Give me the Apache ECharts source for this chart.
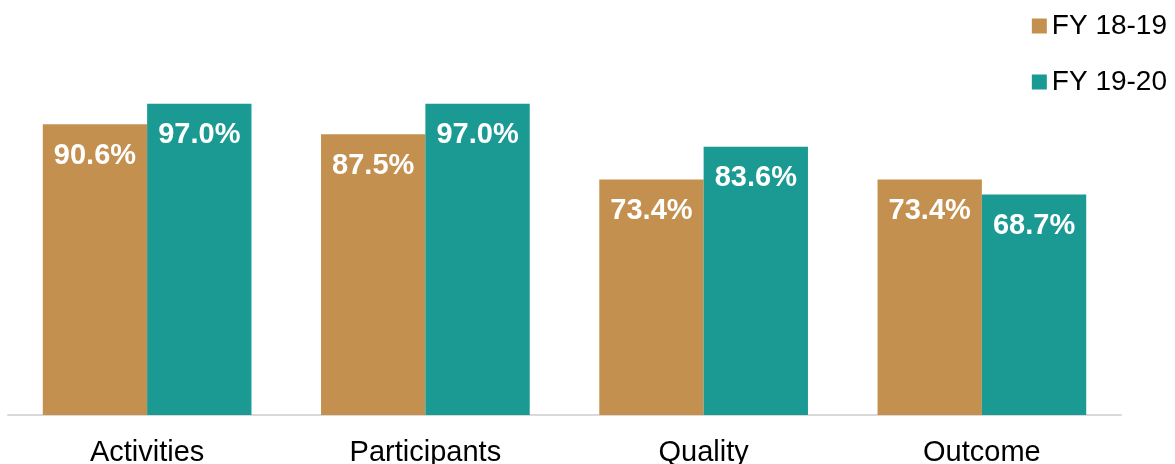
<!DOCTYPE html>
<html><head><meta charset="utf-8">
<script src="https://cdn.jsdelivr.net/npm/echarts@6/dist/echarts.min.js"></script>
<style>html,body{margin:0;padding:0;background:#fff}#c{width:1175px;height:464px}</style>
</head><body><div id="c"></div>
<script>
const categories = ['Activities', 'Participants', 'Quality', 'Outcome'];
const seriesNames = ['FY 18-19', 'FY 19-20'];
const fy1819 = [90.6, 87.5, 73.4, 73.4];
const fy1920 = [97.0, 97.0, 83.6, 68.7];
const colors = ['#C4904F', '#1B9A94'];

const chart = echarts.init(document.getElementById('c'));
const font = '"Liberation Sans", Arial, sans-serif';
const labelCfg = {
  show: true, position: 'insideTop', distance: 17,
  color: '#fff', fontWeight: 'bold', fontSize: 29, fontFamily: font,
  formatter: p => p.value.toFixed(1) + '%'
};
chart.setOption({
  animation: false,
  textStyle: {fontFamily: font},
  legend: {
    orient: 'vertical', right: 3, top: 7, itemWidth: 15, itemHeight: 15, itemGap: 28,
    icon: 'rect',
    textStyle: {fontSize: 28, color: '#000', fontFamily: font},
    data: seriesNames
  },
  grid: {left: 8, right: 54, top: 94, bottom: 49, containLabel: false, outerBoundsMode: 'none'},
  xAxis: {
    type: 'category', data: categories,
    axisLine: {lineStyle: {color: '#d9d9d9', width: 2}},
    axisTick: {show: false},
    axisLabel: {fontSize: 29, color: '#000', margin: 23, fontFamily: font}
  },
  yAxis: {type: 'value', min: 0, max: 100, show: false, splitLine: {show: false}},
  series: [
    {name: seriesNames[0], type: 'bar', data: fy1819, itemStyle: {color: colors[0]},
     barGap: '0%', barCategoryGap: '25%', label: labelCfg},
    {name: seriesNames[1], type: 'bar', data: fy1920, itemStyle: {color: colors[1]},
     barGap: '0%', barCategoryGap: '25%', label: labelCfg}
  ]
});
</script></body></html>
